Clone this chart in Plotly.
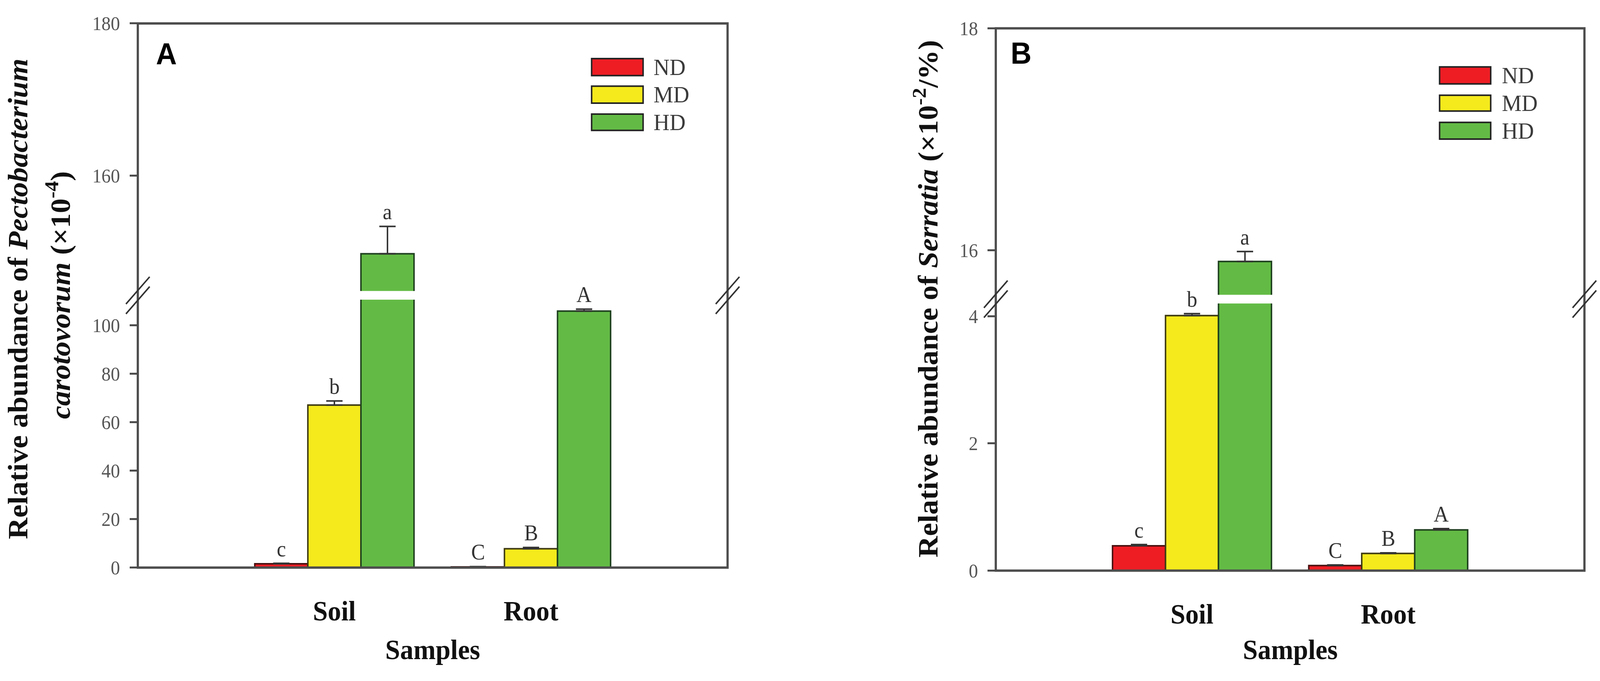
import plotly.graph_objects as go

W, H = 4319, 1743

# ---------------- data ----------------
samples = ["Soil", "Root"]
groups = ["ND", "MD", "HD"]
colors = ["#EE1D24", "#F4EA1C", "#63BB45"]
outlines = ["#4A1010", "#3E3A12", "#1E401E"]

# Panel A: Pectobacterium carotovorum (x10^-4)
a_nd = [1.6, 0.3]
a_md = [67.1, 7.8]
a_hd = [149.7, 105.9]
a_nd_err = [0.2, 0.1]
a_md_err = [1.7, 0.5]
a_hd_err = [3.6, 0.8]
a_nd_let = ["c", "C"]
a_md_let = ["b", "B"]
a_hd_let = ["a", "A"]

# Panel B: Serratia (x10^-2 %)
b_nd = [0.39, 0.08]
b_md = [4.01, 0.27]
b_hd = [15.90, 0.64]
b_nd_err = [0.02, 0.01]
b_md_err = [0.03, 0.01]
b_hd_err = [0.09, 0.02]
b_nd_let = ["c", "C"]
b_md_let = ["b", "B"]
b_hd_let = ["a", "A"]

a_lower_range = [0, 110.6]
a_upper_range = [144.8, 180]
a_lower_ticks = [0, 20, 40, 60, 80, 100]
a_upper_ticks = [160, 180]

b_lower_range = [0, 4.2]
b_upper_range = [15.6, 18]
b_lower_ticks = [0, 2, 4]
b_upper_ticks = [16, 18]

# ---------------- geometry (pixels) ----------------
SERIF = "Liberation Serif"
SANS = "Liberation Sans"
BARGAP = 0.19
FRAME = "#4d4d4d"

panels = [
    dict(name="A", left=372, right=1964, bottom=1473, ltop=764, ubot=741, top=33,
         vals=[a_nd, a_md, a_hd], errs=[a_nd_err, a_md_err, a_hd_err],
         lets=[a_nd_let, a_md_let, a_hd_let],
         lrange=a_lower_range, urange=a_upper_range,
         lticks=a_lower_ticks, uticks=a_upper_ticks,
         leg_x0=1597, leg_x1=1736, leg_rows=[(126, 171), (199, 244), (273, 316)], leg_tx=1762,
         letter_xy=(419, 66)),
    dict(name="B", left=2688, right=4277, bottom=1481, ltop=774, ubot=751, top=46,
         vals=[b_nd, b_md, b_hd], errs=[b_nd_err, b_md_err, b_hd_err],
         lets=[b_nd_let, b_md_let, b_hd_let],
         lrange=b_lower_range, urange=b_upper_range,
         lticks=b_lower_ticks, uticks=b_upper_ticks,
         leg_x0=3886, leg_x1=4024, leg_rows=[(148, 193), (223, 265), (295, 339)], leg_tx=4052,
         letter_xy=(2726, 64)),
]


def px(x):
    return x / W


def py(y):
    return 1 - y / H


fig = go.Figure()
shapes = []
annotations = []
layout_axes = {}

for p_i, p in enumerate(panels):
    xn = "x" if p_i == 0 else "x2"
    yl = "y" if p_i == 0 else "y3"
    yu = "y2" if p_i == 0 else "y4"
    xkey = "xaxis" if p_i == 0 else "xaxis2"
    ylkey = "yaxis" if p_i == 0 else "yaxis3"
    yukey = "yaxis2" if p_i == 0 else "yaxis4"

    for yname in (yl, yu):
        for k, g in enumerate(groups):
            fig.add_trace(go.Bar(
                x=samples, y=p["vals"][k], name=g,
                xaxis=xn, yaxis=yname,
                marker=dict(color=colors[k], line=dict(color=outlines[k], width=4)),
                error_y=dict(type="data", symmetric=False, array=p["errs"][k],
                             arrayminus=[0] * len(samples),
                             color="#333333", thickness=4, width=22),
                showlegend=False,
            ))

    layout_axes[xkey] = dict(
        domain=[px(p["left"]), px(p["right"])], anchor=yl, type="category",
        range=[-1, 2], showline=False, showgrid=False, zeroline=False, ticks="",
        tickfont=dict(family=SERIF, size=72, color="#111111", weight="bold"),
        ticklabelstandoff=62,
    )
    common_y = dict(anchor=xn, showline=False, showgrid=False, zeroline=False,
                    ticks="outside", ticklen=21, tickwidth=5, tickcolor=FRAME,
                    tickfont=dict(family=SERIF, size=50, color="#555555"),
                    ticklabelstandoff=16)
    layout_axes[ylkey] = dict(domain=[py(p["bottom"]), py(p["ltop"])], range=p["lrange"],
                              tickvals=p["lticks"], **common_y)
    layout_axes[yukey] = dict(domain=[py(p["ubot"]), py(p["top"])], range=p["urange"],
                              tickvals=p["uticks"], **common_y)

    # frame
    shapes.append(dict(type="rect", xref="paper", yref="paper",
                       x0=px(p["left"]), x1=px(p["right"]),
                       y0=py(p["bottom"]), y1=py(p["top"]),
                       line=dict(color=FRAME, width=6), layer="above"))
    # axis break marks
    gc = (p["ltop"] + p["ubot"]) / 2
    for sx in (p["left"], p["right"]):
        for off in (-13, 13):
            shapes.append(dict(type="line", xref="paper", yref="paper",
                               x0=px(sx - 32), y0=py(gc + off + 36),
                               x1=px(sx + 32), y1=py(gc + off - 36),
                               line=dict(color="#333333", width=4), layer="above"))

    # significance letters
    plot_w = p["right"] - p["left"]
    bw = plot_w / 3 * (1 - BARGAP) / 3
    for k in range(3):
        for i, s in enumerate(samples):
            top = p["vals"][k][i] + p["errs"][k][i]
            yref = yu if top > p["lrange"][1] else yl
            annotations.append(dict(
                x=s, y=top, xref=xn, yref=yref, text=p["lets"][k][i],
                showarrow=False, xanchor="center", yanchor="bottom",
                xshift=(k - 1) * bw, yshift=4,
                font=dict(family=SERIF, size=56, color="#333333")))

    # legend
    for k, g in enumerate(groups):
        r0, r1 = p["leg_rows"][k]
        shapes.append(dict(type="rect", xref="paper", yref="paper",
                           x0=px(p["leg_x0"]), x1=px(p["leg_x1"]),
                           y0=py(r1), y1=py(r0),
                           fillcolor=colors[k], line=dict(color="#222222", width=4)))
        annotations.append(dict(x=px(p["leg_tx"]), y=py((r0 + r1) / 2), xref="paper", yref="paper",
                                text=g, showarrow=False, xanchor="left", yanchor="middle",
                                font=dict(family=SERIF, size=60, color="#3a3a3a")))

    # panel letter
    lx, ly = p["letter_xy"]
    annotations.append(dict(x=px(lx), y=py(ly), xref="paper", yref="paper", text="<b>%s</b>" % p["name"],
                            showarrow=False, xanchor="left", yanchor="top",
                            font=dict(family=SANS, size=78, color="#000000")))

    # x-axis title
    annotations.append(dict(x=px((p["left"] + p["right"]) / 2), y=py(1690), xref="paper", yref="paper",
                            text="<b>Samples</b>", showarrow=False, xanchor="center", yanchor="middle",
                            font=dict(family=SERIF, size=72, color="#111111")))

# y-axis titles
TITLE_FONT = dict(family=SERIF, size=76, color="#111111")
annotations.append(dict(x=px(48), y=py(762), xref="paper", yref="paper",
                        text="<b>Relative abundance of <i>Pectobacterium</i></b>",
                        textangle=-90, showarrow=False, xanchor="center", yanchor="middle",
                        font=TITLE_FONT))
annotations.append(dict(x=px(158), y=py(752), xref="paper", yref="paper",
                        text="<b><i>carotovorum</i> (×10<sup>-4</sup>)</b>",
                        textangle=-90, showarrow=False, xanchor="center", yanchor="middle",
                        font=TITLE_FONT))
annotations.append(dict(x=px(2500), y=py(762), xref="paper", yref="paper",
                        text="<b>Relative abundance of <i>Serratia</i> (×10<sup>-2</sup>/%)</b>",
                        textangle=-90, showarrow=False, xanchor="center", yanchor="middle",
                        font=TITLE_FONT))

fig.update_layout(
    width=W, height=H,
    margin=dict(l=0, r=0, t=0, b=0),
    paper_bgcolor="white", plot_bgcolor="white",
    barmode="group", bargap=BARGAP, bargroupgap=0,
    shapes=shapes, annotations=annotations,
    showlegend=False,
)
fig.update_layout(**layout_axes)

# Fit the fixed-size figure exactly into the browser viewport.
FIT_JS = """
(function(){
  var gd = document.getElementById('{plot_id}');
  document.documentElement.style.margin = '0';
  document.body.style.margin = '0';
  document.documentElement.style.overflow = 'hidden';
  document.body.style.overflow = 'hidden';
  var iw = window.innerWidth, ih = window.innerHeight;
  gd.style.transformOrigin = '0 0';
  gd.style.transform = 'scale(' + (iw / %d) + ',' + (ih / %d) + ')';
})();
""" % (W, H)

fig.write_html("out.html", post_script=FIT_JS, config={"displayModeBar": False})
